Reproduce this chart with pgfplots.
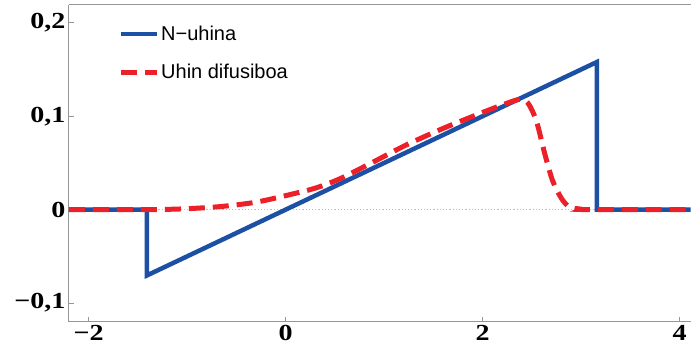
\documentclass[border=0pt]{standalone}
\usepackage{fontspec}
\setmainfont{Liberation Serif}
\newfontfamily\legfont{Liberation Sans}
\newfontfamily\tickfont[FakeStretch=1.22]{Liberation Serif Bold}
\usepackage{pgfplots}
\pgfplotsset{compat=1.18}
\definecolor{nblue}{RGB}{28,80,164}
\definecolor{dred}{RGB}{236,32,40}
\definecolor{axgray}{RGB}{150,150,150}
\begin{document}
\begin{tikzpicture}
\begin{axis}[name=ax,
  scale only axis,
  width=622pt, height=317pt,
  xmin=-2.2, xmax=4.11,
  ymin=-0.12, ymax=0.219,
  axis x line=box, axis y line=left,
  axis line style={-, axgray, line width=1pt},
  tick style={axgray, line width=0.8pt},
  tick align=inside,
  major tick length=5pt,
  xtick pos=bottom, ytick pos=left,
  xtick={-2,0,2,4},
  xticklabels={−2,0,2,4},
  ytick={-0.1,0,0.1,0.2},
  yticklabels={−0,1,0,0,1,0,2},
  yticklabels={{−0,1},{0},{0,1},{0,2}},
  ticklabel style={font=\tickfont\fontsize{23}{25}\selectfont},
  clip=true,
  legend style={draw=none, fill=none, at={(rel axis cs:0.079,0.94)}, anchor=north west,
    font=\legfont\fontsize{20}{22}\selectfont, row sep=18pt, inner sep=0pt},
  legend cell align=left,
  legend image code/.code={\draw[#1] (0pt,0pt) -- (36pt,0pt);},
]
\addplot[forget plot, axgray!60, dotted, line width=1.2pt] coordinates {(-2.2,0) (4.11,0)};
\addplot[nblue, line width=4.5pt, line join=miter] coordinates {
(-2.2,0) (-1.41,0) (-1.41,-0.0705) (3.16,0.158) (3.16,0) (4.11,0)};
\addlegendentry{N−uhina}
\addplot[dred, line width=5pt, dash pattern=on 16pt off 8pt, smooth, tension=0.5] coordinates {
(-2.2,0) (-1.4,0) (-1.0,0.001) (-0.64,0.0035) (-0.3,0.008) (0,0.015) (0.3,0.023)
(0.55,0.033) (0.89,0.051) (1.22,0.069) (1.6,0.087) (2.0,0.104) (2.25,0.114)
(2.38,0.118) (2.46,0.114) (2.545,0.095) (2.63,0.060) (2.71,0.031) (2.80,0.012)
(2.88,0.003) (3.0,0.0005) (3.1,0) (4.11,0)};
\addlegendentry{Uhin difusiboa}
\end{axis}
\path ([shift={(-69pt,-29pt)}]ax.south west) rectangle ++(691pt,351pt);
\end{tikzpicture}
\end{document}
